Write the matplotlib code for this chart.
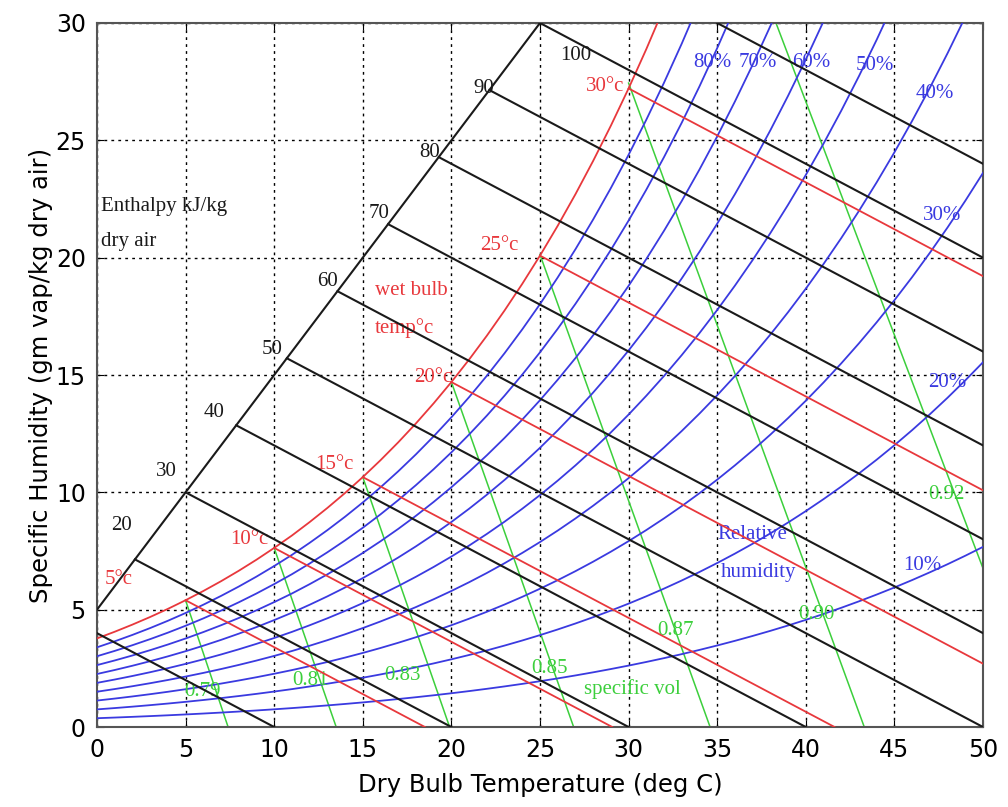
import numpy as np
import matplotlib
matplotlib.use("Agg")
import matplotlib.pyplot as plt

# saturation vapour pressure (kPa) at dry bulb 0..50 C
sat_temps = np.arange(0, 51)
sat_press = [0.6113, 0.6571, 0.7060, 0.7581, 0.8135, 0.8726, 0.9354, 1.0021, 1.0730, 1.1482,
             1.2282, 1.3121, 1.4028, 1.4981, 1.5990, 1.7057, 1.8188, 1.9384, 2.0647, 2.1983,
             2.3393, 2.4882, 2.6453, 2.8111, 2.9858, 3.1699, 3.3639, 3.5681, 3.7831, 4.0092,
             4.2470, 4.4969, 4.7596, 5.0354, 5.3251, 5.6290, 5.9479, 6.2823, 6.6328, 7.0002,
             7.3849, 7.7878, 8.2096, 8.6508, 9.1124, 9.5950, 10.099, 10.627, 11.177, 11.752,
             12.352]
p_atm = 101.325

rh_levels = [0.1, 0.2, 0.3, 0.4, 0.5, 0.6, 0.7, 0.8, 0.9]
enthalpy = [10, 20, 30, 40, 50, 60, 70, 80, 90, 100, 110]
wet_bulb = [5, 10, 15, 20, 25, 30]
wb_slope = -0.4
# specific volume lines: saturation start temp, dry-bulb where they reach w=0, label
sv_start = [5, 10, 15, 20, 25, 30, 35]
sv_start_w = [5.40, 7.63, 10.65, 14.70, 20.13, 27.44, 36.6]
sv_base = [7.4, 13.5, 19.9, 26.9, 34.6, 43.3, 53.4]
sv_labels = ['0.79', '0.81', '0.83', '0.85', '0.87', '0.90', '0.92']
sv_label_pos = [(4.9, 1.5), (11.0, 2.0), (16.2, 2.2), (24.5, 2.5), (31.6, 4.1), (39.6, 4.8), (46.9, 9.9)]

rh_text = ['80%', '70%', '60%', '50%', '40%', '30%', '20%', '10%']
rh_text_pos = [(34.7, 28.3), (37.3, 28.3), (40.3, 28.3), (43.9, 28.2), (47.3, 27.0),
               (47.7, 21.8), (48.0, 14.7), (46.6, 6.9)]
wb_text = ['5°c', '10°c', '15°c', '20°c', '25°c', '30°c']
wb_text_pos = [(1.2, 6.3), (8.6, 8.0), (13.4, 11.2), (19.0, 14.9), (22.7, 20.5), (28.7, 27.3)]
h_text = ['20', '30', '40', '50', '60', '70', '80', '90', '100']
h_text_pos = [(1.4, 8.6), (3.9, 10.9), (6.6, 13.4), (9.9, 16.1), (13.0, 19.0), (15.9, 21.9),
              (18.8, 24.5), (21.8, 27.2), (27.0, 28.6)]

T = sat_temps.astype(float)
ps = np.array(sat_press)

def hum(phi):
    return 622 * phi * ps / (p_atm - phi * ps)

fig = plt.figure(figsize=(10.08, 8.07), dpi=100)
ax = fig.add_axes([0.0962, 0.0991, 0.8790, 0.8724])

BLACK = '#1a1a1a'
RED = '#e8383c'
BLUE = '#3a3ae0'
GREEN = '#3ccf3c'

# relative humidity curves
for phi in rh_levels:
    ax.plot(T, hum(phi), color=BLUE, lw=1.3, zorder=3)

# saturation curve
ax.plot(T, hum(1.0), color=RED, lw=1.3, zorder=4)

# wet bulb lines
wsat = hum(1.0)
for tw in wet_bulb:
    w0 = wsat[tw]
    t_end = min(tw - w0 / wb_slope, 50)
    ax.plot([tw, t_end], [w0, w0 + wb_slope * (t_end - tw)], color=RED, lw=1.3, zorder=4)

# specific volume lines
for t0, w0, tb in zip(sv_start, sv_start_w, sv_base):
    ax.plot([t0, tb], [w0, 0], color=GREEN, lw=1.1, zorder=2)

# enthalpy lines and diagonal scale
ax.plot([0, 25], [5, 30], color=BLACK, lw=1.5, zorder=5)
for h in enthalpy:
    t_start = max(0, (h - 12.5) / 3.5, h - 75)
    t_end = min(h, 50)
    ax.plot([t_start, t_end], [(h - t_start) / 2.5, (h - t_end) / 2.5], color=BLACK, lw=1.5, zorder=5)

serif = dict(family='Liberation Serif', fontsize=15)
for s, (x, y) in zip(h_text, h_text_pos):
    ax.text(x, y, s, color=BLACK, ha='center', va='center', **serif)
for s, (x, y) in zip(wb_text, wb_text_pos):
    ax.text(x, y, s, color=RED, ha='center', va='center', **serif)
for s, (x, y) in zip(rh_text, rh_text_pos):
    ax.text(x, y, s, color=BLUE, ha='center', va='center', **serif)
for s, (x, y) in zip(sv_labels, sv_label_pos):
    ax.text(x, y, s, color=GREEN, ha='left', va='center', **serif)

ax.text(0.2, 22.2, 'Enthalpy kJ/kg', color=BLACK, ha='left', va='center', **serif)
ax.text(0.2, 20.7, 'dry air', color=BLACK, ha='left', va='center', **serif)
ax.text(15.7, 18.6, 'wet bulb', color=RED, ha='left', va='center', **serif)
ax.text(15.7, 17.0, 'temp°c', color=RED, ha='left', va='center', **serif)
ax.text(35.0, 8.2, 'Relative', color=BLUE, ha='left', va='center', **serif)
ax.text(35.2, 6.6, 'humidity', color=BLUE, ha='left', va='center', **serif)
ax.text(27.5, 1.6, 'specific vol', color=GREEN, ha='left', va='center', **serif)

ax.set_xlim(0, 50)
ax.set_ylim(0, 30)
ax.set_xticks(np.arange(0, 51, 5))
ax.set_yticks(np.arange(0, 31, 5))
ax.grid(True, color='black', linestyle=(0, (2, 3)), lw=1.0)
ax.tick_params(direction='in', top=True, right=True, labelsize=17, length=5, pad=8)
for sp in ax.spines.values():
    sp.set_color('#555555')
    sp.set_linewidth(1.5)
ax.set_xlabel('Dry Bulb Temperature (deg C)', fontsize=17.5, labelpad=8)
ax.set_ylabel('Specific Humidity (gm vap/kg dry air)', fontsize=17.5, labelpad=2)

fig.savefig('out.png', dpi=100)
